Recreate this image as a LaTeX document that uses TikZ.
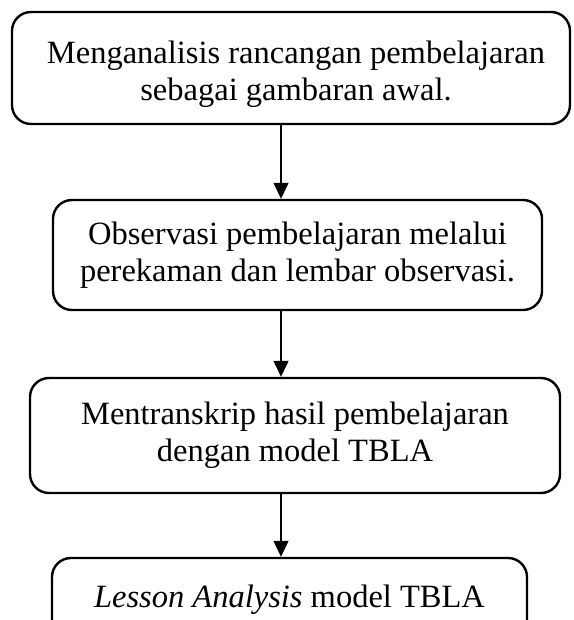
\documentclass[tikz,border=0pt]{standalone}
\usepackage{fontspec}
\setmainfont{Liberation Serif}
\usetikzlibrary{arrows.meta}
\begin{document}
\begin{tikzpicture}[x=1pt,y=-1pt,
  box/.style={draw,line width=2.4pt,rounded corners=19pt,align=center,inner sep=0pt,
    font=\fontsize{32.5}{37}\selectfont},
  txt/.style={align=center,inner sep=0pt,font=\fontsize{32.5}{37}\selectfont},
  arr/.style={line width=1.3pt,-{Triangle[length=16pt,width=15pt]}}]
\useasboundingbox (0,0) rectangle (573,620);
\clip (0,0) rectangle (573,620);
\node[box,minimum width=558pt,minimum height=112pt] (b1) at (291,68) {};
\node[txt] (t1) at (296,74) {Menganalisis rancangan pembelajaran\\sebagai gambaran awal.};
\node[box,minimum width=489pt,minimum height=110pt] (b2) at (297.5,255)
  {Observasi pembelajaran melalui\\perekaman dan lembar observasi.};
\node[box,minimum width=530pt,minimum height=115pt] (b3) at (295,435.5)
  {Mentranskrip hasil pembelajaran\\dengan model TBLA};
\node[box,minimum width=475pt,minimum height=84pt] (b4) at (289.5,600)
  {\textit{Lesson Analysis} model TBLA};
\coordinate (ax) at (281,0);
\draw[arr] (b1.south -| ax) -- (b2.north -| ax);
\draw[arr] (b2.south -| ax) -- (b3.north -| ax);
\draw[arr] (b3.south -| ax) -- (b4.north -| ax);
\end{tikzpicture}
\end{document}
